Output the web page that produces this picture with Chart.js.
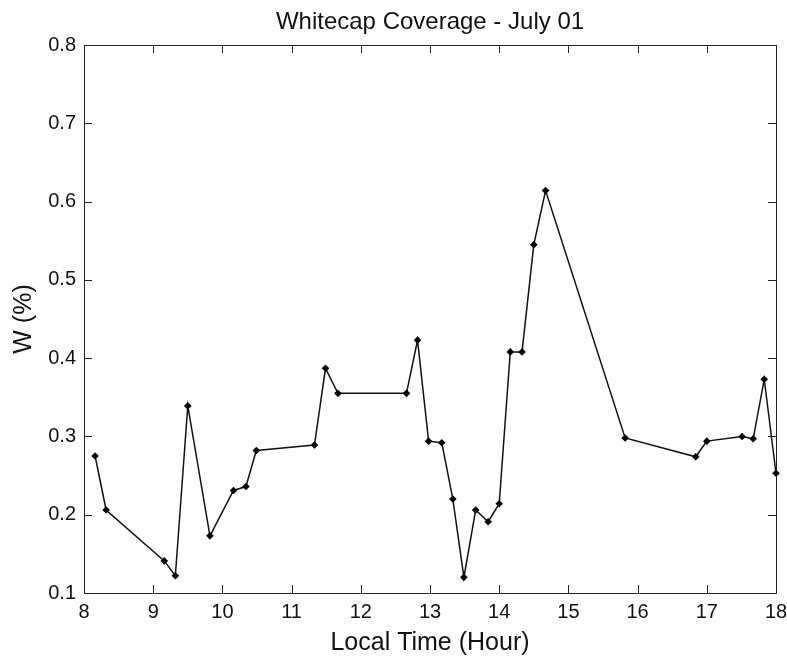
<!DOCTYPE html>
<html>
<head>
<meta charset="utf-8">
<script src="https://cdn.jsdelivr.net/npm/chart.js@4"></script>
<style>
  html, body { margin: 0; padding: 0; background: #fff; }
  #wrap { width: 787px; height: 656px; }
</style>
</head>
<body>
<div id="wrap"><canvas id="chart"></canvas></div>
<script>
// local time (hour) and whitecap coverage W (%)
const hours = [8.16, 8.32, 9.16, 9.32, 9.50, 9.82, 10.16, 10.34, 10.49, 11.33, 11.49, 11.67,
  12.66, 12.82, 12.98, 13.17, 13.33, 13.49, 13.66, 13.84, 14.00, 14.16, 14.33, 14.50,
  14.67, 15.82, 16.84, 17.00, 17.51, 17.67, 17.83, 18.00];
const coverage = [0.275, 0.206, 0.141, 0.122, 0.339, 0.173, 0.231, 0.236, 0.282, 0.289, 0.387, 0.355,
  0.355, 0.423, 0.294, 0.292, 0.220, 0.120, 0.206, 0.191, 0.214, 0.408, 0.408, 0.545,
  0.614, 0.298, 0.274, 0.294, 0.300, 0.297, 0.373, 0.253];
const xTicks = [8, 9, 10, 11, 12, 13, 14, 15, 16, 17, 18];
const yTicks = [0.1, 0.2, 0.3, 0.4, 0.5, 0.6, 0.7, 0.8];

const FONT = "'Liberation Sans', Arial, sans-serif";

// matlab style box with inward ticks on all four sides
const boxTicks = {
  id: 'boxTicks',
  beforeDatasetsDraw(chart) {
    const { ctx, chartArea: a, scales } = chart;
    const len = 8;
    ctx.save();
    ctx.strokeStyle = '#222';
    ctx.lineWidth = 1;
    ctx.beginPath();
    xTicks.forEach(v => {
      const px = Math.round(scales.x.getPixelForValue(v)) + 0.5;
      ctx.moveTo(px, a.bottom); ctx.lineTo(px, a.bottom - len);
      ctx.moveTo(px, a.top); ctx.lineTo(px, a.top + len);
    });
    yTicks.forEach(v => {
      const py = Math.round(scales.y.getPixelForValue(v)) + 0.5;
      ctx.moveTo(a.left, py); ctx.lineTo(a.left + len, py);
      ctx.moveTo(a.right, py); ctx.lineTo(a.right - len, py);
    });
    ctx.stroke();
    ctx.strokeRect(Math.round(a.left) + 0.5, Math.round(a.top) + 0.5,
      Math.round(a.right - a.left), Math.round(a.bottom - a.top));
    ctx.restore();
  }
};

new Chart(document.getElementById('chart'), {
  type: 'line',
  data: {
    datasets: [{
      data: hours.map((h, i) => ({ x: h, y: coverage[i] })),
      borderColor: '#111',
      borderWidth: 1.5,
      backgroundColor: '#000',
      pointStyle: 'rectRot',
      pointRadius: 3.8,
      pointBorderWidth: 0,
      tension: 0,
      clip: false
    }]
  },
  options: {
    responsive: true,
    maintainAspectRatio: false,
    animation: false,
    layout: { padding: { left: 0, right: 11, top: 0, bottom: 0 } },
    plugins: {
      legend: { display: false },
      tooltip: { enabled: false }
    },
    scales: {
      x: {
        type: 'linear',
        position: 'bottom',
        min: 8, max: 18,
        grid: { display: false, drawTicks: false },
        border: { display: false },
        afterBuildTicks: s => { s.ticks = xTicks.map(v => ({ value: v })); },
        afterFit: s => { s.height = 63; s.paddingLeft = 0; s.paddingRight = 0; },
        ticks: {
          padding: 7,
          color: '#111',
          font: { family: FONT, size: 20 },
          maxRotation: 0,
          callback: v => String(v)
        },
        title: {
          display: true,
          text: 'Local Time (Hour)',
          color: '#111',
          font: { family: FONT, size: 25 },
          padding: { top: 0, bottom: -2 }
        }
      },
      top: {
        type: 'linear',
        position: 'top',
        min: 8, max: 18,
        grid: { display: false, drawTicks: false },
        border: { display: false },
        ticks: { display: false },
        afterFit: s => { s.height = 45; s.paddingLeft = 0; s.paddingRight = 0; },
        title: {
          display: true,
          text: 'Whitecap Coverage - July 01',
          color: '#111',
          font: { family: FONT, size: 24 },
          padding: { top: 8, bottom: 0 }
        }
      },
      y: {
        type: 'linear',
        min: 0.1, max: 0.8,
        grid: { display: false, drawTicks: false },
        border: { display: false },
        afterBuildTicks: s => { s.ticks = yTicks.map(v => ({ value: v })); },
        afterFit: s => { s.width = 84; s.paddingTop = 0; s.paddingBottom = 0; },
        ticks: {
          padding: 8,
          color: '#111',
          font: { family: FONT, size: 20 },
          callback: v => v.toFixed(1)
        },
        title: {
          display: true,
          text: 'W (%)',
          color: '#111',
          font: { family: FONT, size: 25 },
          padding: { top: 9, bottom: 0 }
        }
      }
    }
  },
  plugins: [boxTicks]
});
</script>
</body>
</html>
